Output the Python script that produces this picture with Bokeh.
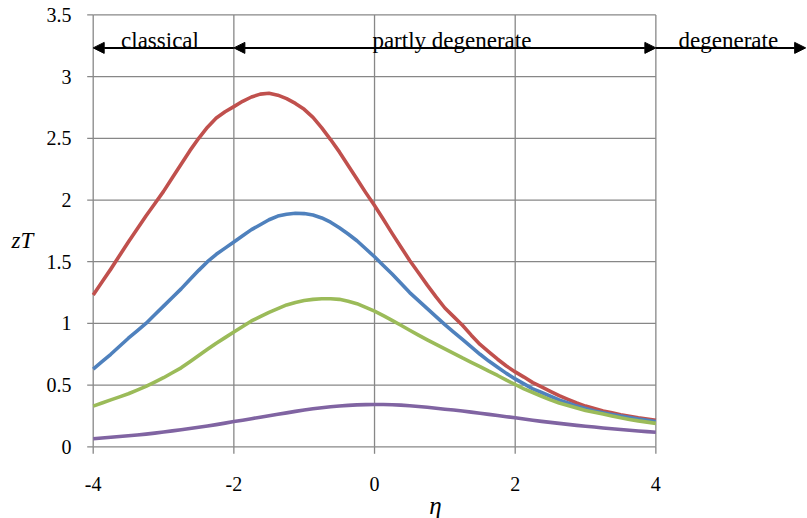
from bokeh.plotting import figure
from bokeh.models import Range1d, Arrow, NormalHead
from bokeh.core.properties import value
from bokeh.embed import file_html
from bokeh.resources import INLINE

# ---- data ----
eta = [-4.0, -3.875, -3.75, -3.625, -3.5, -3.375, -3.25, -3.125,
       -3.0, -2.875, -2.75, -2.625, -2.5, -2.375, -2.25, -2.125,
       -2.0, -1.875, -1.75, -1.625, -1.5, -1.375, -1.25, -1.125,
       -1.0, -0.875, -0.75, -0.625, -0.5, -0.375, -0.25, -0.125,
       0.0, 0.125, 0.25, 0.375, 0.5, 0.625, 0.75, 0.875,
       1.0, 1.125, 1.25, 1.375, 1.5, 1.625, 1.75, 1.875,
       2.0, 2.125, 2.25, 2.375, 2.5, 2.625, 2.75, 2.875,
       3.0, 3.125, 3.25, 3.375, 3.5, 3.625, 3.75, 3.875, 4.0]
zt_red = [1.23, 1.335, 1.44, 1.55, 1.66, 1.765, 1.87, 1.97,
          2.07, 2.18, 2.29, 2.40, 2.50, 2.59, 2.665, 2.715,
          2.757, 2.80, 2.835, 2.858, 2.865, 2.85, 2.822, 2.783,
          2.735, 2.67, 2.585, 2.49, 2.39, 2.28, 2.17, 2.06,
          1.955, 1.845, 1.73, 1.62, 1.51, 1.41, 1.31, 1.215,
          1.125, 1.055, 0.985, 0.905, 0.83, 0.77, 0.71, 0.655,
          0.607, 0.565, 0.52, 0.485, 0.45, 0.415, 0.385, 0.355,
          0.33, 0.31, 0.29, 0.275, 0.26, 0.247, 0.235, 0.225, 0.215]
zt_blue = [0.63, 0.69, 0.75, 0.815, 0.88, 0.94, 1.00, 1.07,
           1.14, 1.21, 1.28, 1.355, 1.43, 1.50, 1.56, 1.61,
           1.66, 1.71, 1.76, 1.80, 1.84, 1.87, 1.885, 1.893,
           1.89, 1.878, 1.855, 1.82, 1.775, 1.725, 1.67, 1.605,
           1.54, 1.47, 1.40, 1.325, 1.25, 1.185, 1.12, 1.055,
           0.99, 0.93, 0.87, 0.81, 0.75, 0.695, 0.645, 0.595,
           0.55, 0.51, 0.47, 0.44, 0.41, 0.38, 0.355, 0.33,
           0.31, 0.29, 0.275, 0.262, 0.25, 0.237, 0.225, 0.215, 0.205]
zt_green = [0.33, 0.355, 0.38, 0.405, 0.43, 0.46, 0.49, 0.525,
            0.56, 0.60, 0.64, 0.69, 0.74, 0.79, 0.84, 0.885,
            0.93, 0.975, 1.02, 1.055, 1.09, 1.12, 1.15, 1.17,
            1.185, 1.195, 1.20, 1.20, 1.195, 1.18, 1.16, 1.13,
            1.10, 1.063, 1.025, 0.985, 0.945, 0.905, 0.867, 0.83,
            0.793, 0.757, 0.72, 0.685, 0.65, 0.613, 0.578, 0.54,
            0.505, 0.47, 0.44, 0.41, 0.38, 0.355, 0.335, 0.315,
            0.295, 0.28, 0.265, 0.25, 0.235, 0.222, 0.21, 0.20, 0.19]
zt_purple = [0.065, 0.071, 0.078, 0.084, 0.09, 0.096, 0.103, 0.111,
             0.12, 0.129, 0.138, 0.148, 0.158, 0.169, 0.18, 0.192,
             0.205, 0.216, 0.228, 0.24, 0.252, 0.264, 0.275, 0.287,
             0.298, 0.308, 0.317, 0.325, 0.331, 0.336, 0.34, 0.342,
             0.343, 0.343, 0.341, 0.338, 0.333, 0.327, 0.32, 0.313,
             0.305, 0.298, 0.29, 0.281, 0.272, 0.263, 0.253, 0.244,
             0.235, 0.225, 0.215, 0.206, 0.198, 0.19, 0.182, 0.174,
             0.167, 0.16, 0.153, 0.146, 0.14, 0.134, 0.128, 0.123, 0.118]

series = [zt_red, zt_blue, zt_green, zt_purple]
colors = ["#C0504D", "#4F81BD", "#9BBB59", "#8064A2"]

x_ticks = [-4, -2, 0, 2, 4]
x_tick_labels = ["-4", "-2", "0", "2", "4"]
y_ticks = [0, 0.5, 1, 1.5, 2, 2.5, 3, 3.5]
y_tick_labels = ["0", "0.5", "1", "1.5", "2", "2.5", "3", "3.5"]

regions = ["classical", "partly degenerate", "degenerate"]
region_label_x = [-3.05, 1.1, 5.03]
region_from = [-2, -2, 4]
region_to = [-4, 4, 6.13]
region_two_heads = [False, True, False]
region_arrow_y = 3.233
region_text_y = 3.29

GRID = "#878787"
FONT = "Liberation Serif"

# The frame covers the whole canvas; axes are drawn from the tick arrays.
PX_X = 70.33    # pixels per unit of eta
PX_Y = 123.4    # pixels per unit of zT
p = figure(width=807, height=518, output_backend="svg", toolbar_location=None,
           x_range=Range1d(-5.318, 6.156), y_range=Range1d(-0.581, 3.617),
           x_axis_location=None, y_axis_location=None,
           min_border_left=0, min_border_right=0, min_border_top=0, min_border_bottom=0)
p.outline_line_color = None
p.xgrid.visible = False
p.ygrid.visible = False
p.background_fill_color = "white"
p.border_fill_color = "white"

xmin, xmax = x_ticks[0], x_ticks[-1]
ymin, ymax = y_ticks[0], y_ticks[-1]

# grid lines (the one at eta=-4 is the y axis line)
p.segment(x0=[xmin] * len(y_ticks), y0=y_ticks, x1=[xmax] * len(y_ticks), y1=y_ticks,
          line_color=GRID, line_width=1.3)
p.segment(x0=x_ticks, y0=[ymin] * len(x_ticks), x1=x_ticks, y1=[ymax] * len(x_ticks),
          line_color=GRID, line_width=1.3)

# tick marks (outside)
ytick_len = 6 / PX_X
xtick_len = 7 / PX_Y
p.segment(x0=[xmin - ytick_len] * len(y_ticks), y0=y_ticks, x1=[xmin] * len(y_ticks), y1=y_ticks,
          line_color=GRID, line_width=1.3)
p.segment(x0=x_ticks, y0=[ymin - xtick_len] * len(x_ticks), x1=x_ticks, y1=[ymin] * len(x_ticks),
          line_color=GRID, line_width=1.3)

# tick labels
p.text(x=[xmin - 21.7 / PX_X] * len(y_ticks), y=y_ticks, text=y_tick_labels,
       text_align="right", text_baseline="middle", text_font=value(FONT),
       text_font_size="20px", text_color="black")
p.text(x=x_ticks, y=[ymin - 37.2 / PX_Y] * len(x_ticks), text=x_tick_labels,
       text_align="center", text_baseline="alphabetic", text_font=value(FONT),
       text_font_size="20px", text_color="black")

# axis titles
p.text(x=[xmin - 70.7 / PX_X], y=[ymin + 206.3 / PX_Y], text=["zT"],
       text_align="center", text_baseline="alphabetic", text_font=value(FONT),
       text_font_style="italic", text_font_size="23px", text_color="black")
p.text(x=[xmin + 342.3 / PX_X], y=[ymin - 58.7 / PX_Y], text=["η"],
       text_align="center", text_baseline="alphabetic", text_font=value(FONT),
       text_font_style="italic", text_font_size="25px", text_color="black")

# curves
for ys, c in zip(series, colors):
    p.line(eta, ys, line_color=c, line_width=3.6, line_join="round")

# region arrows and labels
for a, b, two in zip(region_from, region_to, region_two_heads):
    head = NormalHead(size=11, fill_color="black", line_color="black")
    start = NormalHead(size=11, fill_color="black", line_color="black") if two else None
    p.add_layout(Arrow(start=start, end=head, x_start=a, y_start=region_arrow_y,
                       x_end=b, y_end=region_arrow_y, line_color="black", line_width=2))
p.text(x=region_label_x, y=[region_text_y] * len(regions), text=regions,
       text_align="center", text_baseline="alphabetic", text_font=value(FONT),
       text_font_size="23px", text_color="black")

open("out.html", "w").write(file_html(p, INLINE))
